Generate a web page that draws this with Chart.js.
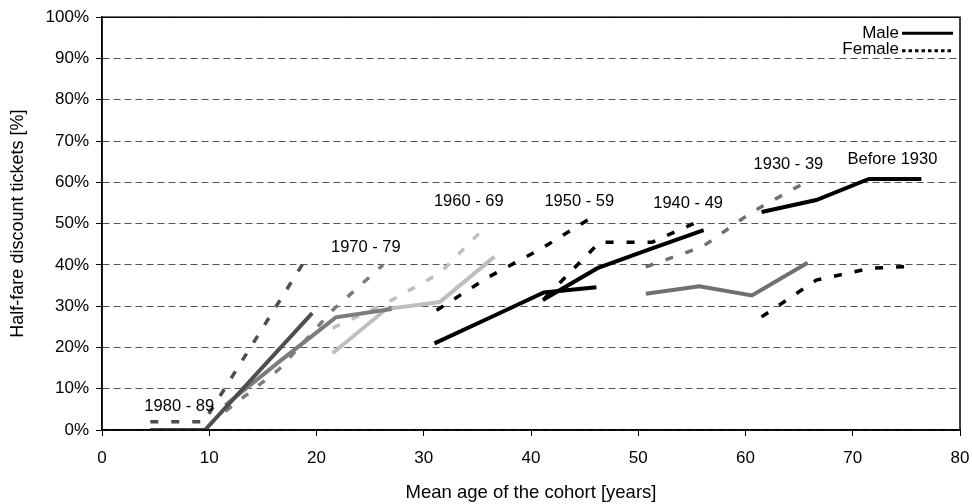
<!DOCTYPE html>
<html>
<head>
<meta charset="utf-8">
<script src="https://cdn.jsdelivr.net/npm/chart.js@4.4.1/dist/chart.umd.min.js"></script>
<style>
  html, body { margin: 0; padding: 0; background: #fff; }
  #wrap { width: 972px; height: 504px; }
</style>
</head>
<body>
<div id="wrap"><canvas id="ticketChart" width="972" height="504"></canvas></div>
<script>
// Cohort data: mean age of the cohort [years] and share with half-fare tickets [%]
const ages1980Male = [4.5, 9.6, 19.6];
const share1980Male = [0, 0, 28.3];
const ages1980Female = [4.5, 9.5, 19.0];
const share1980Female = [2, 2, 41.4];

const ages1970Male = [11.5, 16.5, 21.8, 27.0];
const share1970Male = [6, 16.5, 27.3, 29.3];
const ages1970Female = [11.5, 16.5, 21.5, 26.2];
const share1970Female = [4.5, 14.7, 29, 40];

const ages1960Male = [21.5, 26.5, 31.5, 36.6];
const share1960Male = [18.6, 29.3, 31, 42];
const ages1960Female = [21.5, 26.5, 31.5, 35.9];
const share1960Female = [24.7, 30.7, 38, 49.6];

const ages1950Male = [31, 36, 41.2, 46.1];
const share1950Male = [21, 27, 33.3, 34.6];
const ages1950Female = [31.2, 36, 41, 46];
const share1950Female = [29, 37, 44, 52];

const ages1940Male = [41.1, 46.2, 51.1, 56.1];
const share1940Male = [31.5, 39.2, 43.8, 48.4];
const ages1940Female = [41.3, 46.4, 51.3, 56];
const share1940Female = [32, 45.5, 45.5, 51];

const ages1930Male = [50.7, 55.7, 60.6, 65.8];
const share1930Male = [33, 34.8, 32.6, 40.5];
const ages1930Female = [50.7, 56, 60.6, 65.6];
const share1930Female = [39.5, 44.4, 52.8, 60];

const agesBeforeMale = [61.5, 66.6, 71.5, 76.4];
const shareBeforeMale = [52.8, 55.7, 60.8, 60.8];
const agesBeforeFemale = [61.5, 66.6, 71.7, 75.9];
const shareBeforeFemale = [27.4, 36.3, 39.2, 39.7];

const cohortNames = ['1980 - 89', '1970 - 79', '1960 - 69', '1950 - 59', '1940 - 49', '1930 - 39', 'Before 1930'];
const xTicks = [0, 10, 20, 30, 40, 50, 60, 70, 80];
const yTicks = [0, 10, 20, 30, 40, 50, 60, 70, 80, 90, 100];

const FONT = '"Liberation Sans", Arial, Helvetica, sans-serif';

function pts(ages, values) {
    return ages.map(function(a, i) { return { x: a, y: values[i] }; });
}

function series(label, ages, values, color, female) {
    return {
        label: label,
        data: pts(ages, values),
        borderColor: color,
        borderWidth: female ? 3.5 : 4,
        borderDash: female ? [8, 13] : [],
        pointRadius: 0,
        tension: 0,
        fill: false
    };
}

const datasets = [
    series(cohortNames[0] + ' male', ages1980Male, share1980Male, '#4e4e4e', false),
    series(cohortNames[0] + ' female', ages1980Female, share1980Female, '#4e4e4e', true),
    series(cohortNames[1] + ' male', ages1970Male, share1970Male, '#7c7c7c', false),
    series(cohortNames[1] + ' female', ages1970Female, share1970Female, '#7c7c7c', true),
    series(cohortNames[2] + ' male', ages1960Male, share1960Male, '#bebebe', false),
    series(cohortNames[2] + ' female', ages1960Female, share1960Female, '#bebebe', true),
    series(cohortNames[3] + ' male', ages1950Male, share1950Male, '#000000', false),
    series(cohortNames[3] + ' female', ages1950Female, share1950Female, '#000000', true),
    series(cohortNames[4] + ' male', ages1940Male, share1940Male, '#000000', false),
    series(cohortNames[4] + ' female', ages1940Female, share1940Female, '#000000', true),
    series(cohortNames[5] + ' male', ages1930Male, share1930Male, '#707070', false),
    series(cohortNames[5] + ' female', ages1930Female, share1930Female, '#707070', true),
    series(cohortNames[6] + ' male', agesBeforeMale, shareBeforeMale, '#000000', false),
    series(cohortNames[6] + ' female', agesBeforeFemale, shareBeforeFemale, '#000000', true)
];

// where each cohort name sits, in axis units (age, percent)
const cohortLabelAt = [
    [7.2, 5.8], [24.6, 44.3], [34.2, 55.4], [44.5, 55.4],
    [54.65, 55.0], [64.0, 64.4], [73.7, 65.6]
];

// box around the plot area, cohort names and the male/female key
const decorations = {
    id: 'decorations',
    afterDatasetsDraw(chart) {
        const ctx = chart.ctx;
        const area = chart.chartArea;
        const xs = chart.scales.x, ys = chart.scales.y;
        ctx.save();

        ctx.strokeStyle = '#000';
        ctx.lineWidth = 1.5;
        ctx.setLineDash([]);
        ctx.strokeRect(area.left, area.top, area.right - area.left, area.bottom - area.top);

        ctx.fillStyle = '#000';
        ctx.font = '16.5px ' + FONT;
        ctx.textAlign = 'center';
        ctx.textBaseline = 'middle';
        cohortNames.forEach(function(name, i) {
            const p = cohortLabelAt[i];
            ctx.fillText(name, xs.getPixelForValue(p[0]), ys.getPixelForValue(p[1]));
        });

        // key, top right corner
        ctx.textAlign = 'right';
        ctx.font = '17px ' + FONT;
        ctx.fillText('Male', area.right - 61, area.top + 16);
        ctx.fillText('Female', area.right - 61, area.top + 32);
        ctx.lineWidth = 3;
        ctx.beginPath();
        ctx.moveTo(area.right - 58, area.top + 16);
        ctx.lineTo(area.right - 7, area.top + 16);
        ctx.stroke();
        ctx.setLineDash([3.5, 3]);
        ctx.beginPath();
        ctx.moveTo(area.right - 58, area.top + 33.5);
        ctx.lineTo(area.right - 7, area.top + 33.5);
        ctx.stroke();
        ctx.restore();
    }
};

const ctx = document.getElementById('ticketChart');
const ticketChart = new Chart(ctx, {
    type: 'line',
    data: { datasets: datasets },
    options: {
        responsive: false,
        animation: false,
        layout: { autoPadding: false, padding: { top: 17, right: 12, left: 0, bottom: 0 } },
        plugins: {
            legend: { display: false },
            tooltip: { enabled: false }
        },
        scales: {
            x: {
                type: 'linear',
                min: 0,
                max: 80,
                afterBuildTicks: function(scale) {
                    scale.ticks = xTicks.map(function(v) { return { value: v }; });
                },
                afterFit: function(scale) {
                    scale.height = 74;
                    scale.paddingLeft = 0;
                    scale.paddingRight = 0;
                },
                grid: {
                    drawOnChartArea: false,
                    tickLength: 6,
                    tickColor: '#000',
                    tickWidth: 1
                },
                border: { display: true, color: '#000', width: 1.5 },
                ticks: {
                    color: '#000',
                    padding: 12,
                    maxRotation: 0,
                    font: { family: FONT, size: 17 }
                },
                title: {
                    display: true,
                    text: 'Mean age of the cohort [years]',
                    color: '#000',
                    padding: { top: 0, bottom: 0 },
                    font: { family: FONT, size: 18.5 }
                }
            },
            y: {
                min: 0,
                max: 100,
                afterBuildTicks: function(scale) {
                    scale.ticks = yTicks.map(function(v) { return { value: v }; });
                },
                afterFit: function(scale) { scale.width = 102; },
                grid: {
                    drawOnChartArea: true,
                    color: '#555',
                    lineWidth: 1,
                    tickLength: 6,
                    tickColor: '#000',
                    tickBorderDash: []
                },
                border: { display: true, color: '#000', width: 1.5, dash: [7, 4] },
                ticks: {
                    color: '#000',
                    padding: 7,
                    font: { family: FONT, size: 17 },
                    callback: function(v) { return v + '%'; }
                },
                title: {
                    display: true,
                    text: 'Half-fare discount tickets [%]',
                    color: '#000',
                    padding: { top: 7, bottom: 0 },
                    font: { family: FONT, size: 18 }
                }
            }
        }
    },
    plugins: [decorations]
});
</script>
</body>
</html>
